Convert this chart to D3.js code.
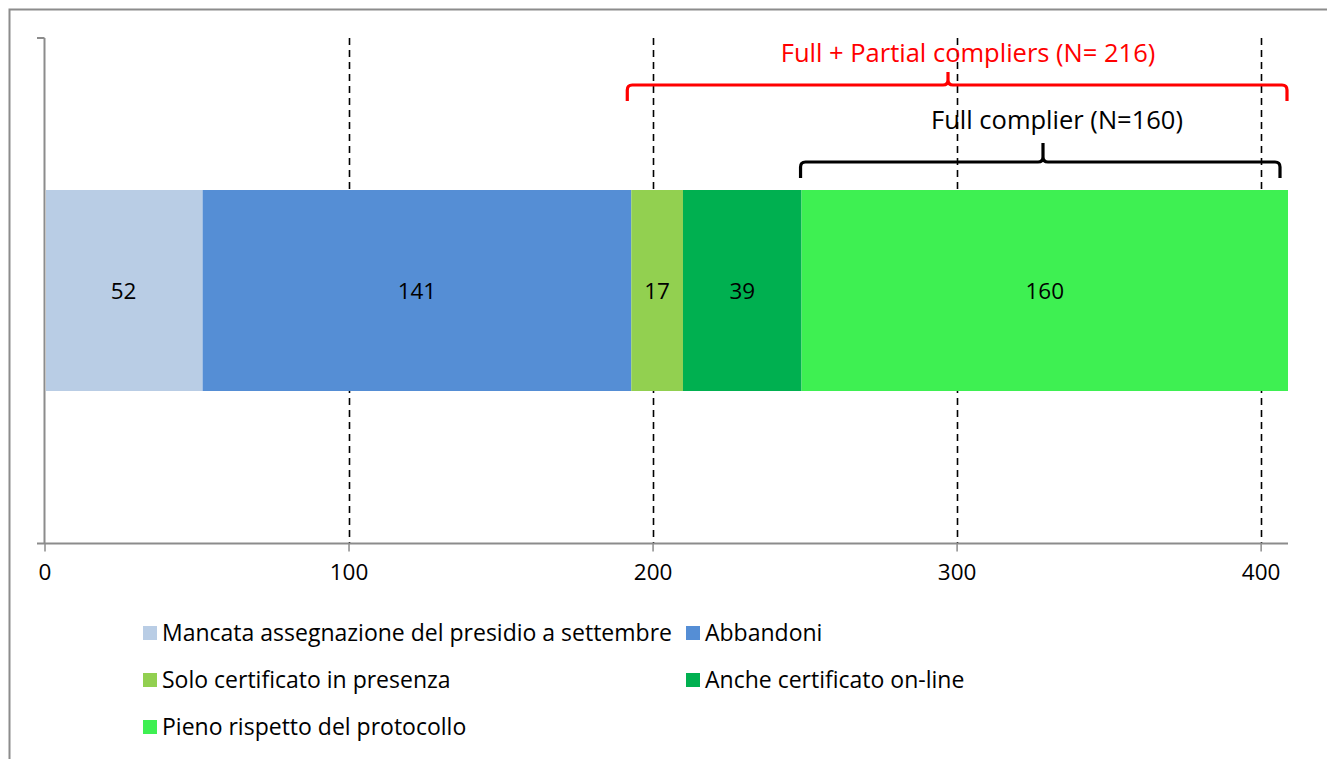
<!DOCTYPE html>
<html>
<head>
<meta charset="utf-8">
<script src="https://cdn.jsdelivr.net/npm/d3@7"></script>
<style>
  html, body { margin: 0; padding: 0; background: #fff; }
  svg { display: block; font-family: "Open Sans", Lato, sans-serif; }
</style>
</head>
<body>
<svg id="chart" width="1327" height="759"></svg>
<script>
// Segment categories, counts and colours (stacked left to right)
const categories = [
  "Mancata assegnazione del presidio a settembre",
  "Abbandoni",
  "Solo certificato in presenza",
  "Anche certificato on-line",
  "Pieno rispetto del protocollo"
];
const values = [52, 141, 17, 39, 160];
const colors = ["#B9CDE5", "#558ED5", "#92D050", "#00B050", "#3EF052"];
const tickValues = [0, 100, 200, 300, 400];
const axisMax = 409;

// Brace annotations: first segment index spanned (to the end of the bar)
const braceLabels = ["Full + Partial compliers (N= 216)", "Full complier (N=160)"];
const braceFirst = [2, 4];
const braceColors = ["#FF0000", "#000000"];

const svg = d3.select("#chart");
const W = 1327, H = 759;

// outer frame
svg.append("rect")
  .attr("x", 9.5).attr("y", 9.5)
  .attr("width", W).attr("height", H)
  .attr("fill", "none").attr("stroke", "#8c8c8c").attr("stroke-width", 2);

const x = d3.scaleLinear().domain([0, axisMax]).range([44.5, 1288]);
const plotTop = 38, plotBottom = 543.5;
const barY0 = 190, barY1 = 391;

// dashed vertical gridlines
svg.append("g").selectAll("line")
  .data(tickValues.filter(d => d > 0))
  .join("line")
  .attr("x1", d => Math.round(x(d)) + 0.5).attr("x2", d => Math.round(x(d)) + 0.5)
  .attr("y1", plotTop).attr("y2", plotBottom)
  .attr("stroke", "#000").attr("stroke-width", 1.6)
  .attr("stroke-dasharray", "7,5");

// stacked segments
const stack = [];
let acc = 0;
values.forEach((v, i) => { stack.push({ i, v, x0: acc, x1: acc + v }); acc += v; });

const seg = svg.append("g");
seg.selectAll("rect")
  .data(stack)
  .join("rect")
  .attr("x", d => x(d.x0) + (d.i === 0 ? 1.5 : 0))
  .attr("width", d => x(d.x1) - x(d.x0) - (d.i === 0 ? 1.5 : 0))
  .attr("y", barY0).attr("height", barY1 - barY0)
  .attr("fill", d => colors[d.i]);

seg.selectAll("text")
  .data(stack)
  .join("text")
  .attr("x", d => (x(d.x0) + x(d.x1)) / 2)
  .attr("y", (barY0 + barY1) / 2 + 8)
  .attr("text-anchor", "middle")
  .attr("font-size", 22.5)
  .attr("fill", "#000")
  .text(d => d.v);

// axes
const axisColor = "#8c8c8c";
svg.append("line")
  .attr("x1", 44.5).attr("x2", 44.5).attr("y1", plotTop).attr("y2", plotBottom)
  .attr("stroke", axisColor).attr("stroke-width", 2);
svg.append("line")
  .attr("x1", 37).attr("x2", 44.5).attr("y1", plotTop).attr("y2", plotTop)
  .attr("stroke", axisColor).attr("stroke-width", 2);

const xAxis = d3.axisBottom(x).tickValues(tickValues).tickSize(8).tickPadding(13).tickFormat(d3.format("d"));
const gx = svg.append("g").attr("transform", `translate(0,${plotBottom})`).call(xAxis);
gx.select(".domain").attr("d", `M37,0H1288`).attr("stroke", axisColor).attr("stroke-width", 2);
gx.selectAll(".tick line").attr("stroke", axisColor).attr("stroke-width", 1.5);
gx.selectAll(".tick text").attr("font-size", 22.5).attr("fill", "#000").attr("font-family", "'Open Sans', sans-serif");

// curly brace path between xa and xb, horizontal at yh, tips down to yt, peak at xm up to yp
function bracePath(xa, xb, xm, yh, yt, yp) {
  const r = 5;
  return `M${xa},${yt} L${xa},${yh + r} Q${xa},${yh} ${xa + r},${yh}` +
    ` L${xm - 5},${yh} Q${xm},${yh} ${xm},${yh - 5} L${xm},${yp}` +
    ` M${xm},${yh - 5} Q${xm},${yh} ${xm + 5},${yh}` +
    ` L${xb - r},${yh} Q${xb},${yh} ${xb},${yh + r} L${xb},${yt}`;
}

const braceGeom = [
  { xa: x(stack[braceFirst[0]].x0) - 4, xb: x(acc) - 1, xm: 948, yh: 85, yt: 101, yp: 72, tx: 968, ty: 62 },
  { xa: x(stack[braceFirst[1]].x0) - 1, xb: x(acc) - 8, xm: 1043, yh: 162, yt: 178, yp: 143, tx: 1057, ty: 129 }
];

braceGeom.forEach((g, i) => {
  svg.append("path")
    .attr("d", bracePath(g.xa, g.xb, g.xm, g.yh, g.yt, g.yp))
    .attr("fill", "none").attr("stroke", braceColors[i]).attr("stroke-width", 3.2)
    .attr("stroke-linecap", "butt");
  svg.append("text")
    .attr("x", g.tx).attr("y", g.ty)
    .attr("text-anchor", "middle")
    .attr("font-size", 25.5)
    .attr("fill", braceColors[i])
    .text(braceLabels[i]);
});

// legend
const legendPos = [
  { x: 143, y: 633 }, { x: 686, y: 633 },
  { x: 143, y: 680 }, { x: 686, y: 680 },
  { x: 143, y: 727 }
];
const lg = svg.append("g").selectAll("g")
  .data(categories)
  .join("g")
  .attr("transform", (d, i) => `translate(${legendPos[i].x},${legendPos[i].y})`);
lg.append("rect").attr("x", 0).attr("y", -7).attr("width", 14).attr("height", 14)
  .attr("fill", (d, i) => colors[i]);
lg.append("text").attr("x", 19).attr("y", 8)
  .attr("font-size", 23).attr("fill", "#000")
  .text(d => d);
</script>
</body>
</html>
